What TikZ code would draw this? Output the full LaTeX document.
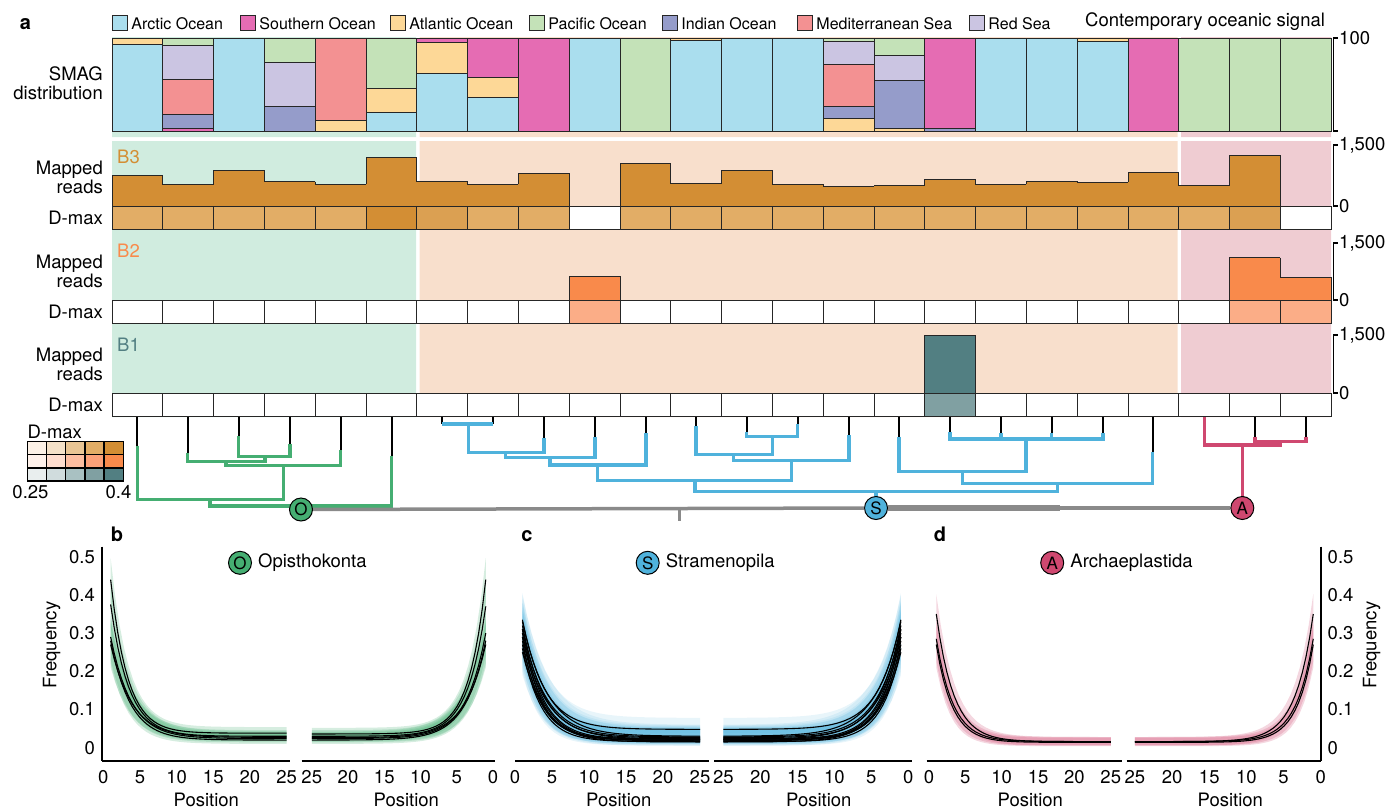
\documentclass[tikz,border=0pt]{standalone}
\usepackage{fontspec}
\setmainfont{TeX Gyre Heros}
\usetikzlibrary{positioning}
\definecolor{arctic}{HTML}{AADEEE}
\definecolor{southern}{HTML}{E56CB3}
\definecolor{atlantic}{HTML}{FDD897}
\definecolor{pacific}{HTML}{C4E2B8}
\definecolor{indian}{HTML}{959CCA}
\definecolor{medit}{HTML}{F39192}
\definecolor{redsea}{HTML}{CBC5E2}
\definecolor{bgO}{HTML}{D0ECDF}
\definecolor{bgS}{HTML}{F8DFCC}
\definecolor{bgA}{HTML}{EFCCD2}
\definecolor{treeO}{HTML}{45AE72}
\definecolor{treeS}{HTML}{4FB2DC}
\definecolor{treeA}{HTML}{CF4870}
\definecolor{bkgray}{HTML}{8A8A8A}
\definecolor{dA1}{HTML}{FCF1E6}\definecolor{dA2}{HTML}{F4E1C8}\definecolor{dA3}{HTML}{E9C594}
\definecolor{dA4}{HTML}{E2AD66}\definecolor{dA5}{HTML}{D38E34}\definecolor{dA45}{HTML}{DBA052}
\definecolor{dB1}{HTML}{FEF1EA}\definecolor{dB2}{HTML}{FEDDCE}\definecolor{dB3}{HTML}{FCBDA0}
\definecolor{dB4}{HTML}{FBA078}\definecolor{dB5}{HTML}{F98A4B}\definecolor{dB35}{HTML}{FBAD87}
\definecolor{dC1}{HTML}{E9EEEE}\definecolor{dC2}{HTML}{D0DCDD}\definecolor{dC3}{HTML}{A9C1C2}
\definecolor{dC4}{HTML}{80A0A2}\definecolor{dC5}{HTML}{527F82}
\tikzset{
  lab/.style={font=\fontsize{18.5}{19}\selectfont,inner sep=1pt},
  leg/.style={font=\fontsize{16}{18}\selectfont,inner sep=1pt},
  legsq/.style={draw=black!85,line width=1pt,minimum size=15.5pt,inner sep=0pt},
  cellline/.style={draw=black!85,line width=1pt},
  barline/.style={black!85,line width=1pt},
  axl/.style={line width=1.6pt},
  tipl/.style={line width=2.2pt},
  brO/.style={treeO,line width=3.3pt},
  brS/.style={treeS,line width=3.3pt},
  brA/.style={treeA,line width=3.3pt},
  root/.style={circle,draw=black,line width=1pt,minimum size=23pt,inner sep=0pt,font=\fontsize{17}{17}\selectfont},
  panel/.style={font=\fontsize{20}{20}\selectfont\bfseries,inner sep=0pt,anchor=base}
}
\newcommand{\readsrow}[3]{%
  \foreach \tv [count=\ci,remember=\tv as \tp (initially #1)] in {#3}{
    \fill[#2] ({112+50.8*(\ci-1)},#1) rectangle ({112+50.8*\ci},\tv);
    \draw[barline] ({112+50.8*(\ci-1)},\tp) -- ({112+50.8*(\ci-1)},\tv) -- ({112+50.8*\ci},\tv);
  }}
\newcommand{\dmaxrow}[2]{%
  \foreach \cf [count=\ci] in {#2}
    \filldraw[fill=\cf,cellline] ({112+50.8*(\ci-1)},#1) rectangle ({112+50.8*\ci},{#1+23.3});}
\newcommand{\readcurves}[3]{%
  \foreach \ha/\hb/\hc in {#3}
    \fill[#1] plot[domain=1:25,samples=40] (\x,{\hb+#2+(\ha-\hb+.04)*exp(-(\x-1)/(1.05*\hc))})
      -- plot[domain=25:1,samples=40] (\x,{max(\hb-.01,.004)+(\ha-\hb-.05)*exp(-(\x-1)/(.95*\hc))}) -- cycle;
  \foreach \ha/\hb/\hc in {#3}
    \draw[line width=1.1pt] plot[domain=1:25,samples=50] (\x,{\hb+(\ha-\hb)*exp(-(\x-1)/\hc)});}
\newcommand{\posaxis}[6]{%
  \draw[axl] (#4,760.7) -- (#5,760.7);
  \foreach \v in {0,5,...,25} \node[lab] (#1\v) at ({#2+#3*\v},777) {\v};
  \node[lab] (#1p) at (#6,800) {Position};}
\begin{document}
\begin{tikzpicture}[x=1pt,y=-1pt,line join=miter]
\useasboundingbox (0,0) rectangle (1389,809);
\node[panel] (pa) at (25.5,29.5) {a};
\node[legsq,fill=arctic] (kArc) at (120,23.2) {};
\node[leg,right=2pt of kArc] (tArc) {Arctic Ocean};
\node[legsq,fill=southern] (kSou) at (248,23.2) {};
\node[leg,right=2pt of kSou] (tSou) {Southern Ocean};
\node[legsq,fill=atlantic] (kAtl) at (398,23.2) {};
\node[leg,right=2pt of kAtl] (tAtl) {Atlantic Ocean};
\node[legsq,fill=pacific] (kPac) at (537,23.2) {};
\node[leg,right=2pt of kPac] (tPac) {Pacific Ocean};
\node[legsq,fill=indian] (kInd) at (670,23.2) {};
\node[leg,right=2pt of kInd] (tInd) {Indian Ocean};
\node[legsq,fill=medit] (kMed) at (805,23.2) {};
\node[leg,right=2pt of kMed] (tMed) {Mediterranean Sea};
\node[legsq,fill=redsea] (kRed) at (977,23.2) {};
\node[leg,right=2pt of kRed] (tRed) {Red Sea};
\node[lab,anchor=west] (tsig) at (1084,22) {Contemporary oceanic signal};

\fill[bgO] (112,37) rectangle (416,137) (112,141) rectangle (416,417);
\fill[bgS] (419.5,37) rectangle (1177.5,137) (419.5,141) rectangle (1177.5,417);
\fill[bgA] (1181,37) rectangle (1331.2,137) (1181,141) rectangle (1331.2,417);

\foreach \ci/\ya/\yb/\col in {
  1/38/44.3/atlantic,1/44.3/131/arctic,
  2/38/45/pacific,2/45/79.3/redsea,2/79.3/114/medit,2/114/128.3/indian,2/128.3/131/southern,
  3/38/131/arctic,
  4/38/62.3/pacific,4/62.3/106/redsea,4/106/131/indian,
  5/38/120.7/medit,5/120.7/131/atlantic,
  6/38/88.7/pacific,6/88.7/112/atlantic,6/112/131/arctic,
  7/38/42.3/southern,7/42.3/73.3/atlantic,7/73.3/131/arctic,
  8/38/77.7/southern,8/77.7/97.7/atlantic,8/97.7/131/arctic,
  9/38/131/southern,10/38/131/arctic,11/38/131/pacific,
  12/38/40/atlantic,12/40/131/arctic,13/38/131/arctic,14/38/131/arctic,
  15/38/41.3/pacific,15/41.3/64/redsea,15/64/106/medit,15/106/118.7/indian,15/118.7/131/atlantic,
  16/38/55.7/pacific,16/55.7/80.3/redsea,16/80.3/128/indian,16/128/131/atlantic,
  17/38/128.3/southern,17/128.3/131/indian,
  18/38/131/arctic,19/38/131/arctic,20/38/41.7/atlantic,20/41.7/131/arctic,
  21/38/131/southern,22/38/131/pacific,23/38/131/pacific,24/38/131/pacific}
  \filldraw[fill=\col,draw=black!85,line width=.9pt] ({112+50.8*(\ci-1)},\ya) rectangle ({112+50.8*\ci},\yb);
\draw[axl,line width=1.2pt] (1337.5,38) -- (1333.5,38) -- (1333.5,131) -- (1337.5,131);
\node[lab,anchor=west] (ax100) at (1338,38) {100};
\node[lab,align=right,anchor=east] (lsmag) at (104,83.5) {SMAG\\distribution};

\readsrow{206}{dA5}{175.3,184.3,170,181.7,184.3,157,181.7,184,173,206,163,183,170,184,186,185,179.7,184,181.3,182,172.3,185.3,155,206}
\dmaxrow{206}{dA4,dA4,dA4,dA4,dA4,dA5,dA45,dA4,dA4,white,dA4,dA4,dA4,dA4,dA4,dA4,dA4,dA4,dA4,dA4,dA4,dA4,dA45,white}
\readsrow{300}{dB5}{300,300,300,300,300,300,300,300,300,276,300,300,300,300,300,300,300,300,300,300,300,300,257.7,277.3}
\draw[barline] (1331.2,277.3) -- (1331.2,300);
\dmaxrow{300}{white,white,white,white,white,white,white,white,white,dB35,white,white,white,white,white,white,white,white,white,white,white,white,dB35,dB35}
\readsrow{393}{dC5}{393,393,393,393,393,393,393,393,393,393,393,393,393,393,393,393,335,393,393,393,393,393,393,393}
\dmaxrow{393}{white,white,white,white,white,white,white,white,white,white,white,white,white,white,white,white,dC4,white,white,white,white,white,white,white}

\node[lab,anchor=west,text=dA5] (lb3) at (116,156.7) {B3};
\node[lab,anchor=west,text=dB5] (lb2) at (116,250.7) {B2};
\node[lab,anchor=west,text=dC5] (lb1) at (116,344.3) {B1};
\node[lab,align=right,anchor=east] (mr3) at (104,177.2) {Mapped\\reads};
\node[lab,align=right,anchor=east] (mr2) at (104,271.3) {Mapped\\reads};
\node[lab,align=right,anchor=east] (mr1) at (104,364.2) {Mapped\\reads};
\node[lab,anchor=east] (dm3) at (104,217.5) {D-max};
\node[lab,anchor=east] (dm2) at (104,311.5) {D-max};
\node[lab,anchor=east] (dm1) at (104,405) {D-max};
\foreach \yt/\yz/\r in {145/206/3,243/300/2,335/393/1}{
  \draw[axl,line width=1.2pt] (1337.5,\yt) -- (1333.5,\yt) -- (1333.5,\yz) -- (1337.5,\yz);
  \node[lab,anchor=west] (ta\r) at (1338,\yt) {1,500};
  \node[lab,anchor=west] (za\r) at (1338,\yz) {0};
}

\node[lab,anchor=west] (kdm) at (26.3,432) {D-max};
\foreach \sr [count=\r] in {dA,dB,dC} \foreach \k in {1,...,5}
  \filldraw[fill=\sr\k,draw=black,line width=1.3pt] ({27.3+19.2*(\k-1)},{441.7+13.1*(\r-1)}) rectangle ({27.3+19.2*\k},{441.7+13.1*\r});
\node[lab] (klo) at (30.5,491.7) {0.25};
\node[lab] (khi) at (118.5,491.7) {0.4};

\coordinate (dbase) at (0,417);
\coordinate (g1) at (137.3,445.7); \coordinate (g2) at (187.7,453.3);
\coordinate (g3) at (238.7,436); \coordinate (g4) at (290,444.3);
\coordinate (g5) at (340.7,450); \coordinate (g6) at (391.7,456);
\coordinate (g34) at (265,456.7); \coordinate (g234) at (226,461.7);
\coordinate (g2345) at (283.3,465.7); \coordinate (g15) at (210,499.3);
\coordinate (jO) at (301,506);
\coordinate (s7) at (442.3,424); \coordinate (s8) at (493,424);
\coordinate (s9) at (544,438.3); \coordinate (s10) at (595,437.3);
\coordinate (s11) at (646,433.3); \coordinate (s12) at (696,426);
\coordinate (s13) at (746.7,431.7); \coordinate (s14) at (797.7,424);
\coordinate (s15) at (849,435); \coordinate (s16) at (899,436.7);
\coordinate (s17) at (950,431.7); \coordinate (s18) at (1001,433.3);
\coordinate (s19) at (1051.7,433.3); \coordinate (s20) at (1103,433.3);
\coordinate (s21) at (1152.7,451.7);
\coordinate (s78) at (468.3,424); \coordinate (s79) at (505.7,452.7);
\coordinate (s710) at (550,457.7); \coordinate (s711) at (597.3,465);
\coordinate (s1314) at (772.7,436.7); \coordinate (s1214) at (733.3,454.3);
\coordinate (s1215) at (791.7,460.7); \coordinate (s715) at (695,480.7);
\coordinate (s1720) at (1026,439); \coordinate (s1620) at (962.7,471.7);
\coordinate (s1621) at (1057.7,483.3); \coordinate (jS) at (876,491.7);
\coordinate (a22) at (1204.3,417); \coordinate (a23) at (1255,436.7);
\coordinate (a24) at (1306,436.7); \coordinate (a2324) at (1280,441.7);
\coordinate (jA) at (1242.3,445);
\foreach \n in {g1,g2,g3,g4,g5,g6,s7,s8,s9,s10,s11,s12,s13,s14,s15,s16,s17,s18,s19,s20,s21,a23,a24}
  \draw[tipl] (\n |- dbase) -- (\n);
\draw[brO] (g3) |- (g34) (g4) |- (g34) (g34) |- (g234) (g2) |- (g234)
  (g234) |- (g2345) (g5) |- (g2345) (g2345) |- (g15) (g1) |- (g15)
  (g15) |- (jO) (g6) |- (jO);
\draw[brS] (s7) |- (s78) (s8) |- (s78) (s78) |- (s79) (s9) |- (s79)
  (s79) |- (s710) (s10) |- (s710) (s710) |- (s711) (s11) |- (s711)
  (s13) |- (s1314) (s14) |- (s1314) (s12) |- (s1214) (s1314) |- (s1214)
  (s1214) |- (s1215) (s15) |- (s1215) (s711) |- (s715) (s1215) |- (s715)
  (s17) |- (s1720) (s18) |- (s1720) (s19) |- (s1720) (s20) |- (s1720)
  (s16) |- (s1620) (s1720) |- (s1620) (s1620) |- (s1621) (s21) |- (s1621)
  (s715) |- (jS) (s1621) |- (jS) (jS) -- (876,508);
\draw[brA] (a23) |- (a2324) (a24) |- (a2324) (a22) |- (jA) (a2324) |- (jA) (jA) -- (1242.3,508);
\node[root,fill=treeO] (rO) at (301,509.5) {O};
\node[root,fill=treeS] (rS) at (876,508) {S};
\node[root,fill=treeA] (rA) at (1242.3,508) {A};
\coordinate (bkt) at (679.3,508.5); \coordinate (bkm) at (1060,508);
\draw[bkgray,line width=3.5pt] (rO) -- (rS);
\draw[bkgray,line width=3pt] (bkt) -- ++(0,12);
\draw[bkgray,line width=6pt] (rS) -- (bkm);
\draw[bkgray,line width=4pt] (bkm) -- (rA);

\node[panel] (pb) at (117,541) {b};
\node[panel] (pc) at (527,541) {c};
\node[panel] (pd) at (940,541) {d};
\node[root,fill=treeO] (hO) at (240,562.8) {O};
\node[lab,right=5pt of hO] (nO) {Opisthokonta};
\node[root,fill=treeS] (hS) at (647.7,562.8) {S};
\node[lab,right=5pt of hS] (nS) {Stramenopila};
\node[root,fill=treeA] (hA) at (1052.2,562.8) {A};
\node[lab,right=5pt of hA] (nA) {Archaeplastida};

\begin{scope}[shift={(103.3,747.7)},x=7.33pt,y=382pt]
  \readcurves{treeO,opacity=.22}{.016}{.44/.038/2.3,.375/.03/2.5,.29/.024/2.8,.28/.02/2.7,.27/.027/2.9}
\end{scope}
\begin{scope}[shift={(493,747.7)},x=-7.25pt,y=382pt]
  \readcurves{treeO,opacity=.22}{.016}{.44/.036/2.3,.37/.03/2.5,.3/.024/2.7,.28/.02/2.8,.27/.026/2.9}
\end{scope}
\begin{scope}[shift={(515,747.7)},x=7.4pt,y=382pt]
  \readcurves{treeS,opacity=.13}{.03}{.335/.048/3.0,.33/.03/3.4,.32/.026/3.0,.31/.022/2.8,.30/.02/2.6,.29/.018/2.9,.28/.024/2.5,.27/.02/2.8,.26/.016/2.6,.25/.015/3.0,.31/.028/3.2,.29/.022/3.3}
\end{scope}
\begin{scope}[shift={(908.3,747.7)},x=-7.4pt,y=382pt]
  \readcurves{treeS,opacity=.13}{.03}{.335/.048/3.0,.33/.03/3.4,.32/.026/3.0,.31/.022/2.8,.30/.02/2.6,.29/.018/2.9,.28/.024/2.5,.27/.02/2.8,.26/.016/2.6,.25/.015/3.0,.31/.028/3.2,.29/.022/3.3}
\end{scope}
\begin{scope}[shift={(929,747.7)},x=7.27pt,y=382pt]
  \readcurves{treeA,opacity=.22}{.012}{.35/.016/2.4,.285/.016/2.3,.27/.014/2.2}
\end{scope}
\begin{scope}[shift={(1320.7,747.7)},x=-7.43pt,y=382pt]
  \readcurves{treeA,opacity=.22}{.012}{.35/.016/2.4,.285/.016/2.3,.27/.014/2.2}
\end{scope}

\posaxis{bl}{103.3}{7.33}{101.7}{290}{206.3}
\posaxis{br}{493}{-7.25}{301.7}{495}{406.3}
\posaxis{cl}{515}{7.4}{515}{709.3}{618.8}
\posaxis{cr}{908.3}{-7.4}{714}{911.7}{818.8}
\posaxis{dl}{929}{7.27}{926.7}{1121.7}{1030.3}
\posaxis{dr}{1320.7}{-7.43}{1126.7}{1320.7}{1230.3}
\draw[axl] (101.7,546.7) -- (101.7,760.7);
\draw[axl] (1320.7,546.7) -- (1320.7,760.7);
\foreach \v/\s [count=\i] in {0/0,.1/0.1,.2/0.2,.3/0.3,.4/0.4,.5/0.5}{
  \node[lab,anchor=east] (fb\i) at (96,{747.7-382*\v}) {\s};
  \node[lab,anchor=west] (fd\i) at (1326.5,{747.7-382*\v}) {\s};
}
\node[lab,rotate=90] (fqb) at (51.7,645) {Frequency};
\node[lab,rotate=90] (fqd) at (1371.7,645) {Frequency};
\end{tikzpicture}
\end{document}
